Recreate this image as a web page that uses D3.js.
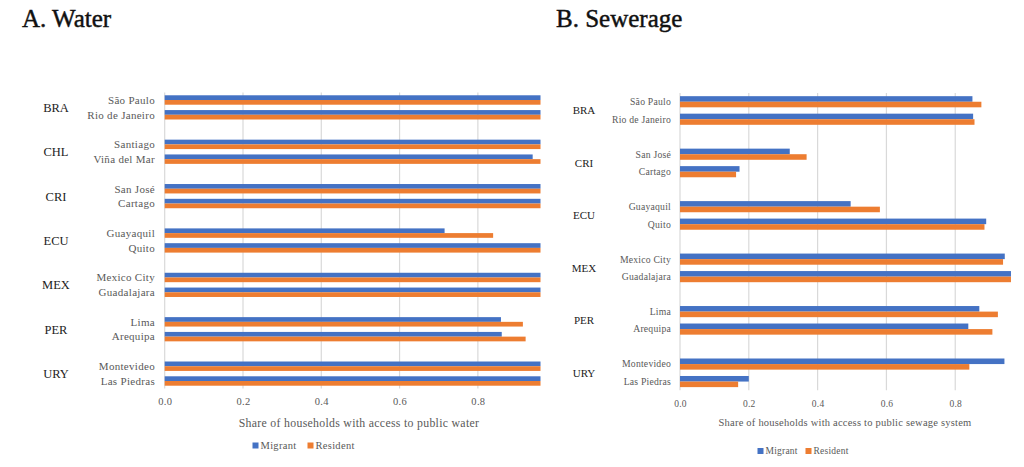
<!DOCTYPE html>
<html>
<head>
<meta charset="utf-8">
<script src="https://cdn.jsdelivr.net/npm/d3@7"></script>
<style>
  body { margin: 0; background: #fff; }
  svg text { font-family: "Liberation Serif", "Times New Roman", serif !important; }
</style>
</head>
<body>
<script>
// A. Water
var waterCountries = ["BRA", "CHL", "CRI", "ECU", "MEX", "PER", "URY"];
var waterCities = ["São Paulo", "Rio de Janeiro", "Santiago", "Viña del Mar", "San José", "Cartago",
    "Guayaquil", "Quito", "Mexico City", "Guadalajara", "Lima", "Arequipa", "Montevideo", "Las Piedras"];
var waterCityCountry = ["BRA", "BRA", "CHL", "CHL", "CRI", "CRI", "ECU", "ECU", "MEX", "MEX", "PER", "PER", "URY", "URY"];
var waterMigrant = [0.96, 0.96, 0.96, 0.94, 0.96, 0.96, 0.715, 0.96, 0.96, 0.96, 0.859, 0.861, 0.96, 0.96];
var waterResident = [0.96, 0.96, 0.96, 0.96, 0.96, 0.96, 0.839, 0.96, 0.96, 0.96, 0.915, 0.922, 0.96, 0.96];

// B. Sewerage
var sewerCountries = ["BRA", "CRI", "ECU", "MEX", "PER", "URY"];
var sewerCities = ["São Paulo", "Rio de Janeiro", "San José", "Cartago", "Guayaquil", "Quito",
    "Mexico City", "Guadalajara", "Lima", "Arequipa", "Montevideo", "Las Piedras"];
var sewerCityCountry = ["BRA", "BRA", "CRI", "CRI", "ECU", "ECU", "MEX", "MEX", "PER", "PER", "URY", "URY"];
var sewerMigrant = [0.850, 0.852, 0.319, 0.173, 0.496, 0.890, 0.944, 0.962, 0.870, 0.838, 0.943, 0.200];
var sewerResident = [0.876, 0.856, 0.368, 0.163, 0.581, 0.885, 0.939, 0.962, 0.924, 0.908, 0.841, 0.169];

var tickVals = [0, 0.2, 0.4, 0.6, 0.8];
var seriesNames = ["Migrant", "Resident"];
var seriesColors = ["#4472C4", "#ED7D31"];

var serif = "'Liberation Serif', 'Times New Roman', serif";

var svg = d3.select("body").append("svg")
    .attr("width", 1024)
    .attr("height", 467)
    .style("font-family", serif);

function drawPanel(p) {
    var g = svg.append("g");

    // title
    g.append("text")
        .attr("x", p.titleX).attr("y", 27)
        .attr("font-size", 25).attr("fill", "#111")
        .attr("stroke", "#111").attr("stroke-width", 0.45)
        .text(p.title);

    // slot list: cities with an empty slot between countries
    var slots = [];
    p.countries.forEach(function(c, ci) {
        p.cities.forEach(function(city, i) {
            if (p.cityCountry[i] == c) slots.push(city);
        });
        if (ci < p.countries.length - 1) slots.push("_gap" + ci);
    });

    var x = d3.scaleLinear().domain([0, p.xMax]).range([p.x0, p.x1]).clamp(true);
    var y = d3.scaleBand().domain(slots).range([p.yTop, p.yBottom]);
    var ySub = d3.scaleBand().domain(seriesNames).range([0, y.bandwidth()])
        .paddingInner(0).paddingOuter(0.57);

    // gridlines
    g.selectAll(".grid").data(tickVals.slice(1)).enter().append("line")
        .attr("x1", function(d) { return x(d); })
        .attr("x2", function(d) { return x(d); })
        .attr("y1", p.yTop).attr("y2", p.yBottom)
        .attr("stroke", "#d9d9d9").attr("stroke-width", 1.2);
    g.append("line")
        .attr("x1", x(0)).attr("x2", x(0))
        .attr("y1", p.yTop).attr("y2", p.yBottom)
        .attr("stroke", "#d9d9d9").attr("stroke-width", 1.2);

    // bars
    var rows = p.cities.map(function(city, i) {
        return { city: city, values: [p.migrant[i], p.resident[i]] };
    });
    var rowG = g.selectAll(".row").data(rows).enter().append("g")
        .attr("transform", function(d) { return "translate(0," + y(d.city) + ")"; });
    rowG.selectAll("rect").data(function(d) { return d.values; }).enter().append("rect")
        .attr("x", x(0))
        .attr("y", function(d, i) { return ySub(seriesNames[i]); })
        .attr("width", function(d) { return x(d) - x(0); })
        .attr("height", ySub.bandwidth())
        .attr("fill", function(d, i) { return seriesColors[i]; });

    // city labels
    g.selectAll(".city").data(p.cities).enter().append("text")
        .attr("x", p.cityX)
        .attr("y", function(d) { return y(d) + y.bandwidth() / 2; })
        .attr("dy", "0.35em")
        .attr("text-anchor", "end")
        .attr("font-size", p.cityFont).attr("fill", "#595959")
        .attr("letter-spacing", p.spacing)
        .text(function(d) { return d; });

    // country labels
    g.selectAll(".country").data(p.countries).enter().append("text")
        .attr("x", p.countryX)
        .attr("y", function(c) {
            var cs = p.cities.filter(function(city, i) { return p.cityCountry[i] == c; });
            return (y(cs[0]) + y(cs[cs.length - 1]) + y.bandwidth()) / 2;
        })
        .attr("dy", "0.35em")
        .attr("text-anchor", "middle")
        .attr("font-size", p.countryFont).attr("fill", "#222")
        .text(function(d) { return d; });

    // x axis
    var axis = g.append("g")
        .attr("transform", "translate(0," + p.tickY + ")")
        .call(d3.axisBottom(x).tickValues(tickVals).tickFormat(d3.format(".1f")).tickSize(0));
    axis.attr("font-family", null);
    axis.select(".domain").remove();
    axis.selectAll("text")
        .attr("y", 0).attr("dy", "0.35em")
        .style("font-family", serif)
        .attr("font-size", p.tickFont).attr("fill", "#595959")
        .attr("letter-spacing", p.spacing);

    g.append("text")
        .attr("x", p.titleAxisX).attr("y", p.axisTitleY)
        .attr("dy", "0.35em").attr("text-anchor", "middle")
        .attr("font-size", p.axisTitleFont).attr("fill", "#595959")
        .attr("letter-spacing", p.spacing)
        .text(p.axisTitle);

    // legend
    var leg = g.selectAll(".leg").data(seriesNames).enter().append("g")
        .attr("transform", function(d, i) { return "translate(" + p.legendX[i] + "," + p.legendY + ")"; });
    leg.append("rect")
        .attr("x", 0).attr("y", -3).attr("width", 6).attr("height", 6)
        .attr("fill", function(d, i) { return seriesColors[i]; });
    leg.append("text")
        .attr("x", 8).attr("dy", "0.35em")
        .attr("font-size", p.legendFont).attr("fill", "#595959")
        .attr("letter-spacing", p.spacing)
        .text(function(d) { return d; });
}

drawPanel({
    title: "A. Water", titleX: 22,
    countries: waterCountries, cities: waterCities, cityCountry: waterCityCountry,
    migrant: waterMigrant, resident: waterResident,
    xMax: 0.96, x0: 164.7, x1: 540.5,
    yTop: 92.6, yBottom: 388.4,
    cityX: 155, cityFont: 11, countryX: 56, countryFont: 12.5, spacing: 0.3,
    tickY: 401.5, tickFont: 10.5,
    titleAxisX: 359, axisTitleY: 423, axisTitleFont: 11.8,
    axisTitle: "Share of households with access to public water",
    legendX: [252.5, 307.5], legendY: 445.5, legendFont: 10.5
});

drawPanel({
    title: "B. Sewerage", titleX: 556,
    countries: sewerCountries, cities: sewerCities, cityCountry: sewerCityCountry,
    migrant: sewerMigrant, resident: sewerResident,
    xMax: 0.965, x0: 680, x1: 1012,
    yTop: 93, yBottom: 390.3,
    cityX: 671, cityFont: 9.7, countryX: 584, countryFont: 11, spacing: 0.22,
    tickY: 403.3, tickFont: 9.5,
    titleAxisX: 845, axisTitleY: 422.3, axisTitleFont: 10.5,
    axisTitle: "Share of households with access to public sewage system",
    legendX: [757.5, 805.5], legendY: 451, legendFont: 9.5
});
</script>
</body>
</html>
